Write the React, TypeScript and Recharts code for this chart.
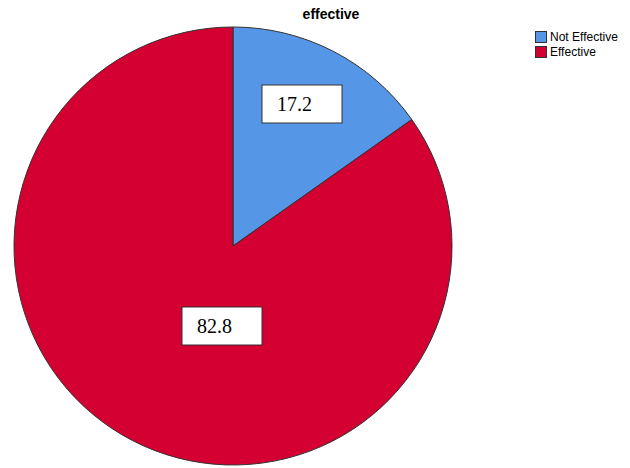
import { Legend, Pie, PieChart, Cell } from "recharts";

const CATEGORIES = ["Not Effective", "Effective"];
// slice shares as drawn in the picture (the angle), and the printed labels
const SHARES = [15.2, 84.8];
const LABELS = ["17.2", "82.8"];
const COLORS = ["#5596E6", "#D40031"];

// where each label box sits, relative to the pie centre
const LABEL_OFFSETS = [
  { dx: 69, dy: -142 },
  { dx: -11, dy: 80 },
];

const data = CATEGORIES.map((name, i) => ({
  name,
  value: SHARES[i],
  label: LABELS[i],
}));

function BoxLabel(props: any) {
  const { cx, cy, index } = props;
  const off = LABEL_OFFSETS[index];
  const w = 80;
  const h = 38;
  const x = cx + off.dx - w / 2;
  const y = cy + off.dy - h / 2;
  return (
    <g>
      <rect x={x} y={y} width={w} height={h} fill="#fff" stroke="#333" strokeWidth={1} />
      <text
        x={x + 15}
        y={y + h / 2 + 7}
        fill="#000"
        fontFamily="'Liberation Serif', 'Times New Roman', serif"
        fontSize={20}
        textAnchor="start"
      >
        {LABELS[index]}
      </text>
    </g>
  );
}

function LegendBox({ payload }: any) {
  const items = [...(payload || [])].sort(
    (a: any, b: any) => CATEGORIES.indexOf(a.value) - CATEGORIES.indexOf(b.value)
  );
  return (
    <div style={{ fontFamily: "'Liberation Sans', Arial, sans-serif", fontSize: 12, color: "#000" }}>
      {items.map((p: any, i: number) => (
        <div key={i} style={{ display: "flex", alignItems: "center", height: 15 }}>
          <span
            style={{
              display: "inline-block",
              width: 10,
              height: 10,
              background: p.color,
              border: "1px solid #333",
              marginRight: 3,
            }}
          />
          <span>{p.value}</span>
        </div>
      ))}
    </div>
  );
}

export default function App() {
  return (
    <div style={{ position: "absolute", left: 0, top: 0, width: 630, height: 468, background: "#fff" }}>
      <div
        style={{
          position: "absolute",
          left: 231,
          top: 6,
          width: 200,
          textAlign: "center",
          fontFamily: "'Liberation Sans', Arial, sans-serif",
          fontWeight: "bold",
          fontSize: 14,
          color: "#000",
        }}
      >
        effective
      </div>
      <PieChart width={630} height={468} margin={{ top: 0, right: 0, bottom: 0, left: 0 }}>
        <Pie
          data={data}
          dataKey="value"
          nameKey="name"
          cx={233}
          cy={246}
          outerRadius={219}
          startAngle={90}
          endAngle={-270}
          stroke="#333"
          strokeWidth={1}
          label={BoxLabel}
          labelLine={false}
          isAnimationActive={false}
        >
          {data.map((_, i) => (
            <Cell key={i} fill={COLORS[i]} />
          ))}
        </Pie>
        <Legend
          layout="vertical"
          verticalAlign="top"
          align="right"
          content={<LegendBox />}
          wrapperStyle={{ left: 535, top: 29, width: 95 }}
        />
      </PieChart>
    </div>
  );
}
